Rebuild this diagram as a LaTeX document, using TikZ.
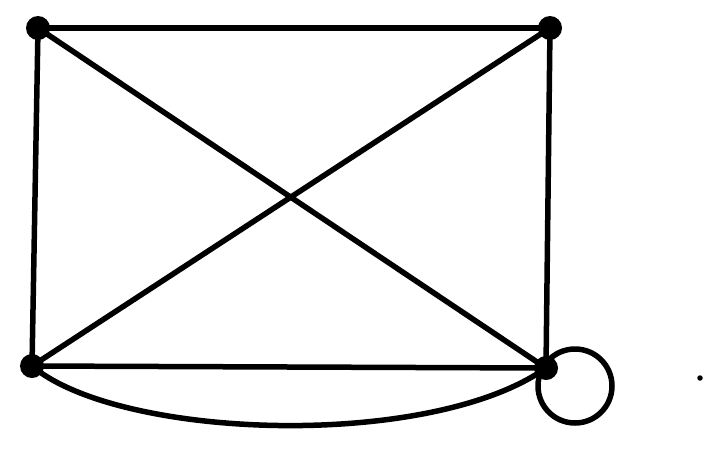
\documentclass[tikz,border=0pt]{standalone}
\begin{document}
\begin{tikzpicture}[x=1pt,y=-1pt,
  vtx/.style={circle,fill=black,inner sep=0pt,minimum size=24pt},
  edge/.style={line width=5.5pt,line cap=round}]
\useasboundingbox (0,0) rectangle (707,464);
\node[vtx] (a) at (38,28) {};
\node[vtx] (b) at (550,28) {};
\node[vtx] (c) at (32,366) {};
\node[vtx] (d) at (546,368) {};
\draw[edge] (a.center) -- (b.center);
\draw[edge] (a.center) -- (c.center);
\draw[edge] (b.center) -- (d.center);
\draw[edge] (c.center) -- (d.center);
\draw[edge] (a.center) -- (d.center);
\draw[edge] (b.center) -- (c.center);
\draw[edge] (c.center) .. controls (120,440) and (430,450) .. (d.center);
\draw[line width=5.5pt] (575,386) circle (37);
\node[circle,fill=black,inner sep=0pt,minimum size=5.5pt] (dot) at (700,378) {};
\end{tikzpicture}
\end{document}
